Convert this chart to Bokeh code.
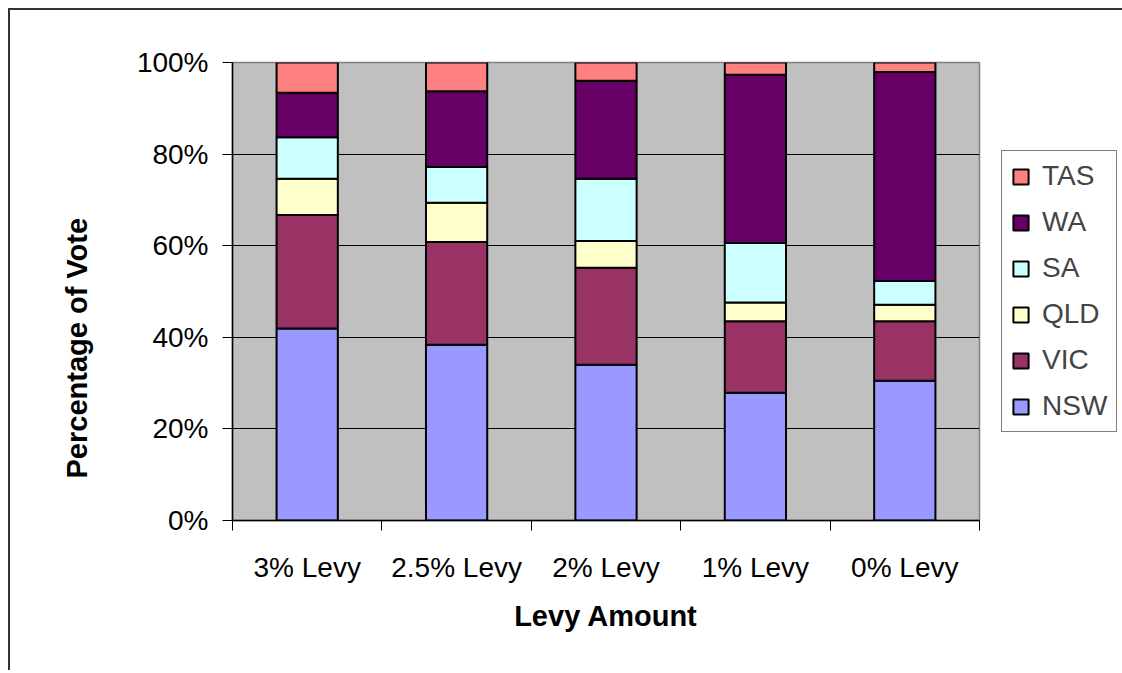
from bokeh.plotting import figure
from bokeh.models import (ColumnDataSource, Range1d, FixedTicker, PrintfTickFormatter,
                          Legend, LegendItem, Title)
from bokeh.embed import file_html
from bokeh.resources import INLINE

categories = ["3% Levy", "2.5% Levy", "2% Levy", "1% Levy", "0% Levy"]
states = ["NSW", "VIC", "QLD", "SA", "WA", "TAS"]
nsw = [41.9, 38.4, 34.0, 27.9, 30.5]
vic = [24.8, 22.4, 21.2, 15.6, 13.0]
qld = [7.9, 8.6, 5.8, 4.1, 3.6]
sa = [9.1, 7.8, 13.6, 13.0, 5.2]
wa = [9.7, 16.5, 21.4, 36.7, 45.6]
tas = [6.6, 6.3, 4.0, 2.7, 2.1]
colors = ["#9999FF", "#993366", "#FFFFCC", "#CCFFFF", "#660066", "#FF8080"]
y_ticks = [0, 20, 40, 60, 80, 100]

FONT = "Liberation Sans"

x_pos = [i + 0.5 for i in range(len(categories))]
source = ColumnDataSource(dict(x=x_pos, NSW=nsw, VIC=vic, QLD=qld, SA=sa, WA=wa, TAS=tas))

p = figure(frame_width=747, frame_height=458, output_backend="svg", toolbar_location=None,
           x_range=Range1d(0, len(categories)), y_range=Range1d(0, 100),
           min_border_left=222, min_border_right=141, min_border_top=52, min_border_bottom=150)
p.styles = {"margin-left": "8px", "margin-top": "8px",
            "border-top": "2px solid #333333", "border-left": "2px solid #333333"}

p.background_fill_color = "#C0C0C0"
p.border_fill_color = "white"
p.outline_line_color = "#808080"
p.outline_line_width = 1.5

renderers = p.vbar_stack(states, x="x", width=0.41, source=source, color=colors,
                         line_color="black", line_width=2)

# x axis
p.xaxis.ticker = FixedTicker(ticks=x_pos, minor_ticks=list(range(len(categories) + 1)))
p.xaxis.major_label_overrides = {x: c for x, c in zip(x_pos, categories)}
p.xaxis.major_tick_out = 0
p.xaxis.major_tick_in = 0
p.xaxis.minor_tick_out = 10
p.xaxis.minor_tick_in = 0
p.xaxis.minor_tick_line_color = "black"
p.xaxis.major_label_standoff = 21
p.xaxis.axis_label = "Levy Amount"
p.xaxis.axis_label_standoff = 14

# y axis
p.yaxis.ticker = FixedTicker(ticks=y_ticks)
p.yaxis.formatter = PrintfTickFormatter(format="%d%%")
p.yaxis.major_tick_out = 10
p.yaxis.major_tick_in = 0
p.yaxis.minor_tick_line_color = None
p.yaxis.major_label_standoff = 14

for ax in (p.xaxis, p.yaxis):
    ax.axis_line_color = "black"
    ax.axis_line_width = 1.5
    ax.major_tick_line_color = "black"
    ax.major_label_text_font = FONT
    ax.major_label_text_font_size = "28px"
    ax.major_label_text_color = "black"
    ax.axis_label_text_font = FONT
    ax.axis_label_text_font_size = "29px"
    ax.axis_label_text_font_style = "bold"
    ax.axis_label_text_color = "black"

# y axis title, placed lower than the frame centre as in the reference
ytitle = Title(text="Percentage of Vote", align="left", offset=42, standoff=81,
               text_font=FONT, text_font_size="29px", text_font_style="bold",
               text_color="black")
p.add_layout(ytitle, "left")

p.xgrid.grid_line_color = None
p.ygrid.ticker = FixedTicker(ticks=y_ticks)
p.ygrid.grid_line_color = "black"
p.ygrid.grid_line_width = 1.2

items = [LegendItem(label=s, renderers=[r]) for s, r in zip(states, renderers)][::-1]
legend = Legend(items=items, location=(22, 88), margin=0, padding=9, spacing=14,
                glyph_width=19, glyph_height=19, label_standoff=12, label_height=32,
                label_text_font=FONT, label_text_font_size="28px",
                border_line_color="black", border_line_width=1,
                background_fill_color="white", background_fill_alpha=1.0)
p.add_layout(legend, "right")

open("out.html", "w").write(file_html(p, INLINE))
